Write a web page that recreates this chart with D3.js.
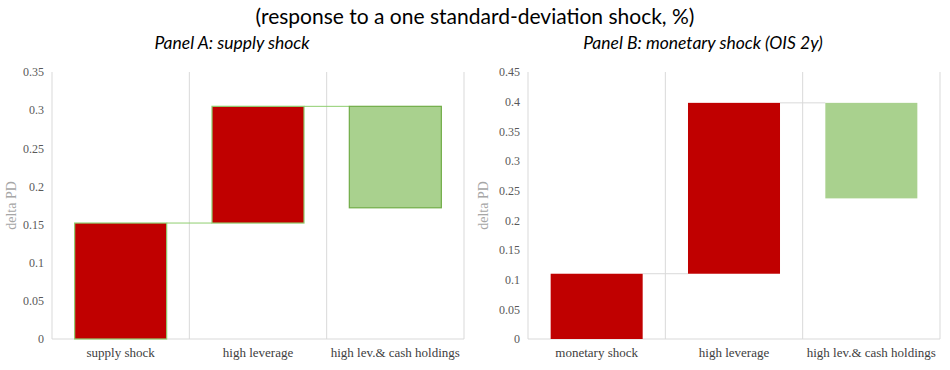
<!DOCTYPE html>
<html>
<head>
<meta charset="utf-8">
<script src="https://cdn.jsdelivr.net/npm/d3@7"></script>
<style>
  body { margin: 0; background: #fff; }
  text { font-family: "Liberation Serif", serif; }
</style>
</head>
<body>
<div id="chart"></div>
<script>
// values
var catsA = ["supply shock", "high leverage", "high lev.& cash holdings"];
var baseA = [0, 0.152, 0.305];
var topA = [0.152, 0.305, 0.172];
var ticksA = [0, 0.05, 0.1, 0.15, 0.2, 0.25, 0.3, 0.35];

var catsB = ["monetary shock", "high leverage", "high lev.& cash holdings"];
var baseB = [0, 0.11, 0.398];
var topB = [0.11, 0.398, 0.237];
var ticksB = [0, 0.05, 0.1, 0.15, 0.2, 0.25, 0.3, 0.35, 0.4, 0.45];

var barColors = ["#C00000", "#C00000", "#A9D18E"];

const width = 950, height = 370;

var svg = d3.select("#chart").append("svg")
  .attr("width", width)
  .attr("height", height);

svg.append("text")
  .attr("x", 475).attr("y", 24)
  .attr("text-anchor", "middle")
  .style("font-family", "Lato, 'Open Sans', sans-serif")
  .style("font-size", "21px")
  .attr("fill", "#000")
  .text("(response to a one standard-deviation shock, %)");

function drawPanel(opts) {
  var g = svg.append("g");

  var x = d3.scaleBand()
    .domain(opts.cats)
    .range([opts.left, opts.right])
    .paddingInner(0.33)
    .paddingOuter(0.165);

  var y = d3.scaleLinear()
    .domain([0, opts.ymax])
    .range([339, 72]);

  // subtitle
  g.append("text")
    .attr("x", opts.titleX).attr("y", 49)
    .attr("text-anchor", "middle")
    .style("font-family", "Lato, 'Open Sans', sans-serif")
    .style("font-style", "italic")
    .style("font-size", "17.5px")
    .text(opts.title);

  // vertical separators (category gridlines)
  var step = x.step();
  var seps = d3.range(opts.cats.length + 1).map(i => opts.left + i * step);
  g.selectAll(".sep").data(seps).join("line")
    .attr("x1", d => d).attr("x2", d => d)
    .attr("y1", y(opts.ymax)).attr("y2", y(0))
    .attr("stroke", "#d9d9d9").attr("stroke-width", 1);

  // baseline
  g.append("line")
    .attr("x1", opts.left).attr("x2", opts.right)
    .attr("y1", y(0)).attr("y2", y(0))
    .attr("stroke", "#d9d9d9").attr("stroke-width", 1);

  // y axis
  var yAxis = g.append("g")
    .attr("transform", `translate(${opts.left},0)`)
    .attr("font-family", "'Liberation Serif', serif")
    .call(d3.axisLeft(y).tickValues(opts.ticks).tickSize(0).tickPadding(8)
      .tickFormat(d => String(+d.toFixed(2))));
  yAxis.attr("font-family", "'Liberation Serif', serif");
  yAxis.select(".domain").remove();
  yAxis.selectAll("text")
    .style("font-family", "'Liberation Serif', serif")
    .style("font-size", "12px")
    .attr("fill", "#595959");

  // x axis labels
  var xAxis = g.append("g")
    .attr("transform", `translate(0,${y(0)})`)
    .call(d3.axisBottom(x).tickSize(0).tickPadding(9));
  xAxis.attr("font-family", "'Liberation Serif', serif");
  xAxis.select(".domain").remove();
  xAxis.selectAll("text")
    .style("font-family", "'Liberation Serif', serif")
    .style("font-size", "13px")
    .attr("fill", "#404040");

  // y title
  g.append("text")
    .attr("transform", `translate(${opts.labelX},${(y(0) + y(opts.ymax)) / 2}) rotate(-90)`)
    .attr("text-anchor", "middle")
    .style("font-family", "'Liberation Serif', serif")
    .style("font-size", "14px")
    .attr("fill", "#a6a6a6")
    .text("delta PD");

  // connectors
  var conn = d3.range(opts.cats.length - 1);
  g.selectAll(".conn").data(conn).join("line")
    .attr("x1", i => x(opts.cats[i]) + x.bandwidth())
    .attr("x2", i => x(opts.cats[i + 1]))
    .attr("y1", i => y(opts.top[i]))
    .attr("y2", i => y(opts.top[i]))
    .attr("stroke", opts.connColor).attr("stroke-width", 1);

  // bars
  g.selectAll(".bar").data(opts.cats).join("rect")
    .attr("x", d => x(d))
    .attr("width", x.bandwidth())
    .attr("y", (d, i) => y(Math.max(opts.base[i], opts.top[i])))
    .attr("height", (d, i) => Math.abs(y(opts.base[i]) - y(opts.top[i])))
    .attr("fill", (d, i) => barColors[i])
    .attr("stroke", (d, i) => opts.stroke ? (i == 2 ? "#70AD47" : "#8fce6f") : "none")
    .attr("stroke-width", 1.2);
}

drawPanel({
  cats: catsA, base: baseA, top: topA, ticks: ticksA, ymax: 0.35,
  left: 52, right: 464, titleX: 232, labelX: 16,
  title: "Panel A: supply shock",
  connColor: "#8fce6f", stroke: true
});

drawPanel({
  cats: catsB, base: baseB, top: topB, ticks: ticksB, ymax: 0.45,
  left: 528, right: 940, titleX: 703, labelX: 488,
  title: "Panel B: monetary shock (OIS 2y)",
  connColor: "#d9d9d9", stroke: false
});
</script>
</body>
</html>
